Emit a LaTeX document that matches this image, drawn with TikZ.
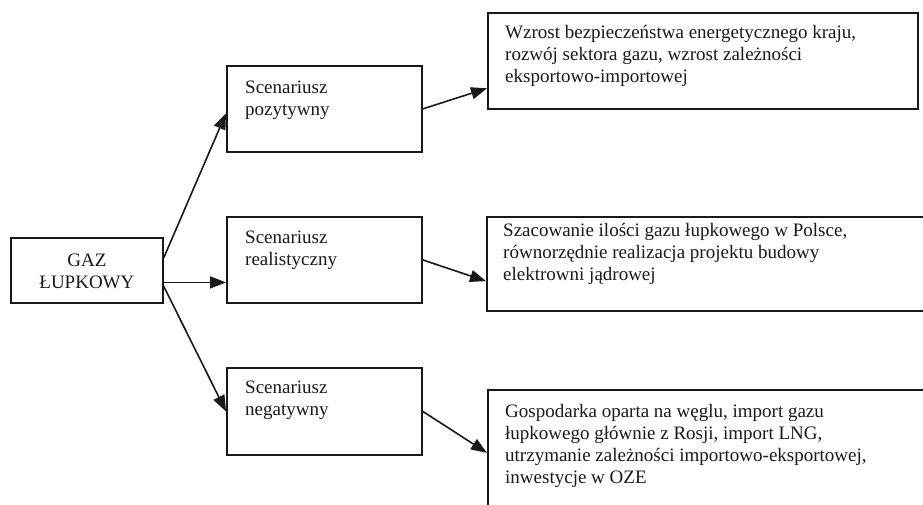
\documentclass[tikz,border=0pt]{standalone}
\usepackage{fontspec}
\setmainfont{Liberation Serif}
\usetikzlibrary{arrows.meta,calc}

\begin{document}
\begin{tikzpicture}[x=1pt, y=-1pt,
		box_style/.style={draw=black!90, line width=1.8pt, anchor=north west, inner sep=0pt},
		text_style/.style={anchor=base west, align=left, inner sep=0pt, text=black!90, font=\fontsize{19}{22}\selectfont},
		edge_style/.style={draw=black!90, line width=1.6pt, -{Triangle[length=16pt,width=12pt]}}]

		\useasboundingbox (0,0) rectangle (923,504);
		\clip (0,0) rectangle (923,504);

		\node[box_style, minimum width=152, minimum height=65] (gaz) at (10,237) {};
		\node[box_style, minimum width=195, minimum height=86] (n1) at (226,65) {};
		\node[box_style, minimum width=195, minimum height=86] (n2) at (226,216) {};
		\node[box_style, minimum width=195, minimum height=87] (n3) at (226,367) {};
		\node[box_style, minimum width=430, minimum height=96] (w1) at (487,12) {};
		\node[box_style, minimum width=460, minimum height=94] (w2) at (486,216) {};
		\node[box_style, minimum width=460, minimum height=140] (w3) at (487,389) {};

		% base = baseline of the last line
		\node[text_style, anchor=base, align=center] (t0) at ($(gaz.north)+(0,51)$) {GAZ\\ŁUPKOWY};
		\node[text_style] (t1) at ($(n1.north west)+(19,50)$) {Scenariusz\\pozytywny};
		\node[text_style] (t2) at ($(n2.north west)+(19,49)$) {Scenariusz\\realistyczny};
		\node[text_style] (t3) at ($(n3.north west)+(19,48)$) {Scenariusz\\negatywny};
		\node[text_style] (t4) at ($(w1.north west)+(18,70)$) {Wzrost bezpieczeństwa energetycznego kraju,\\rozwój sektora gazu, wzrost zależności\\eksportowo-importowej};
		\node[text_style] (t5) at ($(w2.north west)+(17,64)$) {Szacowanie ilości gazu łupkowego w Polsce,\\równorzędnie realizacja projektu budowy\\elektrowni jądrowej};
		\node[text_style] (t6) at ($(w3.north west)+(18,94)$) {Gospodarka oparta na węglu, import gazu\\łupkowego głównie z Rosji, import LNG,\\utrzymanie zależności importowo-eksportowej,\\inwestycje w OZE};

		\coordinate (g2) at ($(gaz.north east)!0.68!(gaz.south east)$);
		\draw[edge_style] ($(gaz.north east)!0.31!(gaz.south east)$) -- ($(n1.north west)!0.55!(n1.south west)$);
		\draw[edge_style] (g2) -- (g2 -| n2.west);
		\draw[edge_style] ($(gaz.north east)!0.74!(gaz.south east)$) -- (n3.west);
		\draw[edge_style] (n1.east) -- ($(w1.north west)!0.78!(w1.south west)$);
		\draw[edge_style] (n2.east) -- ($(w2.north west)!0.68!(w2.south west)$);
		\draw[edge_style] (n3.east) -- ($(w3.north west)!0.45!(w3.south west)$);
\end{tikzpicture}
\end{document}
